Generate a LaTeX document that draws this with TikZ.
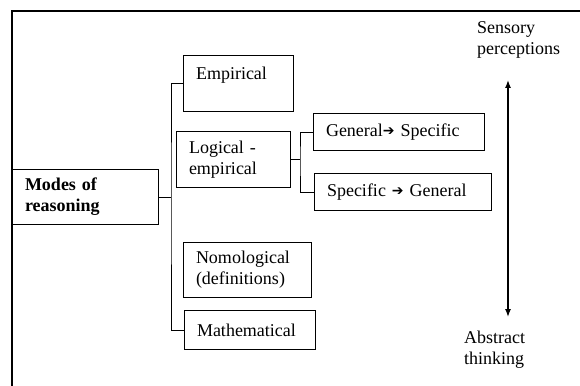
\documentclass[tikz,border=0pt]{standalone}
\usepackage{fontspec}
\setmainfont{Liberation Serif}
\newfontfamily\arrowfont{DejaVu Sans}
\usetikzlibrary{positioning,arrows.meta}
\tikzset{
  frame line/.style={line width=2pt},
  link/.style={line width=1pt},
  mode box/.style={draw, line width=1pt, anchor=north west, align=left, inner xsep=12.5pt, inner ysep=0pt, font=\fontsize{18}{21}\selectfont},
  side label/.style={anchor=north west, inner sep=0pt, align=left, font=\fontsize{18}{21}\selectfont},
  scale arrow/.style={line width=1.3pt, {Latex[length=8pt,width=6pt]}-{Latex[length=8pt,width=6pt]}},
}
\newcommand{\stepto}{\raisebox{1.2pt}{\arrowfont\fontsize{14}{14}\selectfont ➔}}

\begin{document}
\begin{tikzpicture}[x=1pt,y=-1pt]
\useasboundingbox (0,0) rectangle (580,385);
%the frame
\draw[frame line] (12,386) |- (581,11);
%the nodes
\node [mode box,text width=121pt,minimum height=55pt] (modes) at (12,169) {\textbf{Modes of}\\\textbf{reasoning}};
\node [mode box,text width=85pt,minimum height=56pt] (emp) at (183,55) {Empirical\\\mbox{}};
\node [mode box,text width=89pt,minimum height=56pt] (logic) at (176,131) {Logical -\\empirical};
\node [mode box,text width=146pt,minimum height=37pt] (gs) at (313,113) {General\stepto\ Specific};
\node [mode box,text width=152pt,minimum height=37pt,below=22pt of gs.south west,anchor=north west,xshift=1pt] (sg) {Specific \stepto\ General};
\node [mode box,text width=103pt,minimum height=55pt] (nomo) at (183,242) {Nomological\\(definitions)};
\node [mode box,text width=106pt,minimum height=39pt,below=12pt of nomo.south west,anchor=north west,xshift=1pt] (math) {Mathematical};
\node [side label] (sense) at (477,21) {Sensory\\perceptions};
\node [side label] (abstract) at (464,331) {Abstract\\thinking};
\coordinate (trunk) at (171,200);
\coordinate (fork) at (300,160);
\coordinate (top end) at (508,80);
\coordinate (bottom end) at (508,317);
%drawings of lines
\draw[link] (modes.east) -- (modes.east -| trunk);
\draw[link] (emp.west) -| (trunk) |- (math.west);
\draw[link] (logic.east) -- (logic.east -| fork);
\draw[link] (gs.west) -| (fork) |- (sg.west);
\draw[scale arrow] (top end) -- (bottom end);
\end{tikzpicture}
\end{document}
